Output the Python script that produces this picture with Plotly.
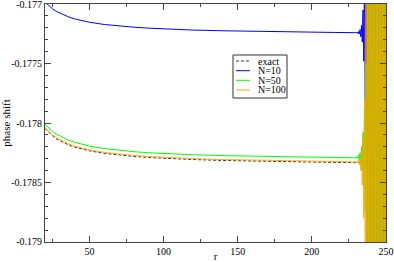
import plotly.graph_objects as go

## datos
r_suave = [20, 22, 25, 28, 32, 36, 40, 45, 50, 60, 70, 80, 90, 100, 120, 140, 160, 180, 200, 215, 229]

exacto = [-0.178045, -0.178073, -0.178108, -0.178135, -0.178163, -0.178185, -0.178202, -0.178220,
          -0.178234, -0.178255, -0.178270, -0.178281, -0.178290, -0.178297, -0.178307, -0.178315,
          -0.178321, -0.178325, -0.178328, -0.178331, -0.178333]
r_exacto_fin = [240, 250]
exacto_fin = [-0.178334, -0.178335]

n10 = [-0.176983, -0.177009, -0.177040, -0.177064, -0.177089, -0.177109, -0.177125, -0.177140,
       -0.177153, -0.177172, -0.177185, -0.177195, -0.177203, -0.177209, -0.177219, -0.177225,
       -0.177230, -0.177234, -0.177237, -0.177239, -0.177241]
n50 = [-0.178010, -0.178036, -0.178070, -0.178096, -0.178123, -0.178145, -0.178162, -0.178180,
       -0.178194, -0.178215, -0.178230, -0.178241, -0.178250, -0.178257, -0.178267, -0.178274,
       -0.178280, -0.178284, -0.178287, -0.178289, -0.178290]
n100 = [-0.178037, -0.178065, -0.178100, -0.178127, -0.178155, -0.178177, -0.178194, -0.178212,
        -0.178226, -0.178247, -0.178262, -0.178273, -0.178282, -0.178289, -0.178299, -0.178307,
        -0.178313, -0.178317, -0.178320, -0.178323, -0.178325]

# zona de oscilaciones (r > 229)
r_cola = [229.5, 230.0, 230.5, 231.0, 231.5, 232.0, 232.5, 233.0, 233.5, 234.0, 234.5, 235.0,
          235.5, 236.0, 236.5, 237.0, 237.5, 238.0, 238.5, 239.0, 239.5, 240.0, 240.5, 241.0,
          241.5, 242.0, 242.5, 243.0, 243.5, 244.0, 244.5, 245.0, 245.5, 246.0, 246.5, 247.0,
          247.5, 248.0, 248.5, 249.0, 249.5, 250.0]
n10_cola = [-0.177238, -0.177245, -0.177236, -0.177248, -0.177232, -0.177252, -0.177215, -0.177275,
            -0.177180, -0.177320, -0.177050, -0.177480, -0.176700, -0.177800, -0.176300, -0.178300,
            -0.1762, -0.1798, -0.1762, -0.1798, -0.1762, -0.1798, -0.1762, -0.1798, -0.1762, -0.1798,
            -0.1762, -0.1798, -0.1762, -0.1798, -0.1762, -0.1798, -0.1762, -0.1798, -0.1762, -0.1798,
            -0.1762, -0.1798, -0.1762, -0.1798, -0.1762, -0.1798]
n50_cola = [-0.178287, -0.178293, -0.178283, -0.178298, -0.178272, -0.178310, -0.178250, -0.178340,
            -0.178200, -0.178400, -0.178080, -0.178520, -0.177860, -0.178750, -0.177500, -0.179100,
            -0.1765, -0.1795, -0.1765, -0.1795, -0.1765, -0.1795, -0.1765, -0.1795, -0.1765, -0.1795,
            -0.1765, -0.1795, -0.1765, -0.1795, -0.1765, -0.1795, -0.1765, -0.1795, -0.1765, -0.1795,
            -0.1765, -0.1795, -0.1765, -0.1795, -0.1765, -0.1795]
n100_cola = [-0.178324, -0.178328, -0.178320, -0.178334, -0.178312, -0.178350, -0.178290, -0.178400,
             -0.178230, -0.178520, -0.178100, -0.178800, -0.177800, -0.179100, -0.177000, -0.179800,
             -0.1762, -0.1798, -0.1762, -0.1798, -0.1762, -0.1798, -0.1762, -0.1798, -0.1762, -0.1798,
             -0.1762, -0.1798, -0.1762, -0.1798, -0.1762, -0.1798, -0.1762, -0.1798, -0.1762, -0.1798,
             -0.1762, -0.1798, -0.1762, -0.1798, -0.1762, -0.1798]

nombres = ["exact", "N=10", "N=50", "N=100"]
colores = ["#333333", "#0000ff", "#00ff00", "#ffa500"]
trazos = ["3px,2px", "solid", "solid", "solid"]
opacidades = [1, 1, 1, 0.9]

y_ticks = [-0.177, -0.1775, -0.178, -0.1785, -0.179]
y_ticktext = ["-0.177", "-0.1775", "-0.178", "-0.1785", "-0.179"]
x_ticks = [50, 100, 150, 200, 250]

series = [
    (r_suave + r_exacto_fin, exacto + exacto_fin),
    (r_suave + r_cola, n10 + n10_cola),
    (r_suave + r_cola, n50 + n50_cola),
    (r_suave + r_cola, n100 + n100_cola),
]

fig = go.Figure()
for (x, y), nombre, color, trazo, op in zip(series, nombres, colores, trazos, opacidades):
    fig.add_trace(go.Scatter(x=x, y=y, mode="lines", name=nombre, opacity=op,
                             line=dict(color=color, width=1, dash=trazo)))

fuente = "Liberation Serif"

fig.update_layout(
    width=394, height=262,
    margin=dict(l=45, r=8, t=4, b=20),
    paper_bgcolor="white", plot_bgcolor="white",
    showlegend=False,
    font=dict(family=fuente, size=10, color="black"),
)

fig.update_xaxes(range=[20, 250.0001], tickvals=x_ticks, ticks="inside", ticklen=6,
                 tickcolor="#444", showgrid=False, zeroline=False, ticklabeloverflow="allow",
                 showline=True, linecolor="#444", linewidth=1, mirror="allticks",
                 minor=dict(ticks="inside", dtick=25, tick0=0, ticklen=3, tickcolor="#444"),
                 title=dict(text="r", standoff=0, font=dict(size=11)), automargin=False,
                 tickfont=dict(size=10))
fig.update_yaxes(range=[-0.1790001, -0.1769999], tickvals=y_ticks, ticktext=y_ticktext,
                 ticks="inside", ticklen=6, tickcolor="#444", showgrid=False, zeroline=False,
                 ticklabeloverflow="allow",
                 showline=True, linecolor="#444", linewidth=1, mirror="allticks",
                 minor=dict(ticks="inside", dtick=0.0001, tick0=-0.179, ticklen=3, tickcolor="#444"),
                 title=dict(text="phase shift", standoff=4, font=dict(size=11)), automargin=False,
                 tickfont=dict(size=10))

## Leyenda dibujada a mano (caja compacta como en la original)
fig.add_shape(type="rect", xref="paper", yref="paper", x0=0.5513, x1=0.7097, y0=0.605, y1=0.7857,
              line=dict(color="#333", width=1), fillcolor="white", layer="above")
ys_ley = [0.7605, 0.7198, 0.6794, 0.6387]
for nombre, color, trazo, yl in zip(nombres, colores, trazos, ys_ley):
    fig.add_shape(type="line", xref="paper", yref="paper", x0=0.5601, x1=0.6012, y0=yl, y1=yl,
                  line=dict(color=color, width=1, dash=trazo), layer="above")
    fig.add_annotation(xref="paper", yref="paper", x=0.6202, y=yl, text=nombre, showarrow=False,
                       xanchor="left", yanchor="middle", font=dict(size=10))

## quitar el margen del body para que la figura quede en (0,0)
fig.write_html("out.html", config={"displayModeBar": False},
               post_script="document.body.style.margin='0';")
